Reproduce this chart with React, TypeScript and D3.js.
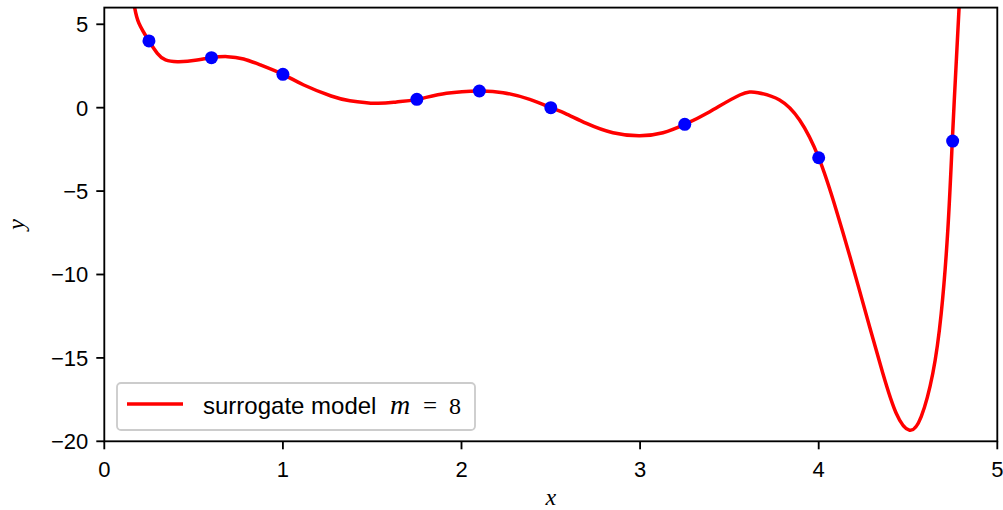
import React from "react";
import * as d3 from "d3";

// Sample locations and observed responses
const sampleX = [0.25, 0.6, 1.0, 1.75, 2.1, 2.5, 3.25, 4.0, 4.75];
const sampleY = [4, 3, 2, 0.5, 1, 0, -1, -3, -2];

// Surrogate model curve, traced at a set of x positions
const modelX = [
  0.17, 0.194, 0.25, 0.297, 0.343, 0.418, 0.52, 0.6, 0.69, 0.78, 0.875, 1.0,
  1.117, 1.27, 1.375, 1.524, 1.636, 1.75, 1.916, 2.1, 2.233, 2.382, 2.5, 2.58,
  2.7, 2.848, 2.998, 3.128, 3.25, 3.39, 3.558, 3.66, 3.781, 3.893, 4.0, 4.098,
  4.191, 4.285, 4.359, 4.434, 4.509, 4.574, 4.639, 4.686, 4.723, 4.748, 4.765,
  4.786,
];
const modelY = [
  6.0, 5.06, 4.0, 3.26, 2.86, 2.76, 2.86, 3.0, 3.06, 2.92, 2.56, 2.0,
  1.36, 0.7, 0.42, 0.26, 0.34, 0.5, 0.86, 1.0, 0.9, 0.5, 0.0, -0.34,
  -0.94, -1.5, -1.68, -1.5, -1.0, -0.24, 0.76, 0.9, 0.46, -0.74, -3.0, -6.13,
  -9.53, -13.13, -15.92, -18.32, -19.34, -18.52, -15.92, -12.33, -7.33, -2.0, 1.66,
  6.0,
];

const xTicks = [0, 1, 2, 3, 4, 5];
const yTicks = [5, 0, -5, -10, -15, -20];

const W = 1003;
const H = 510;
const left = 104.3;
const right = 997.3;
const top = 7.6;
const bottom = 441.3;

const SANS = "'Liberation Sans', Arial, sans-serif";
const SERIF = "'Liberation Serif', 'DejaVu Serif', serif";
const fmt = (v: number) => (v < 0 ? "\u2212" + Math.abs(v) : String(v));

export default function App() {
  const x = d3.scaleLinear().domain([0, 5]).range([left, right]);
  const y = d3.scaleLinear().domain([-20, 6]).range([bottom, top]);

  const pts: [number, number][] = modelX.map((v, i) => [v, modelY[i]]);
  const line = d3
    .line<[number, number]>()
    .x((d) => x(d[0]))
    .y((d) => y(d[1]))
    .curve(d3.curveNatural);

  const tickLen = 8;
  const axisW = 1.85;
  const fs = 22;

  return (
    <svg width={W} height={H} style={{ display: "block", position: "absolute", left: 0, top: 0 }}>
      <rect x={0} y={0} width={W} height={H} fill="#fff" />
      <defs>
        <clipPath id="plot-area">
          <rect x={left} y={top} width={right - left} height={bottom - top} />
        </clipPath>
      </defs>

      <g clipPath="url(#plot-area)">
        <path d={line(pts) ?? ""} fill="none" stroke="#ff0000" strokeWidth={3.5} strokeLinejoin="round" />
        {sampleX.map((v, i) => (
          <circle key={i} cx={x(v)} cy={y(sampleY[i])} r={6.5} fill="#0000ff" />
        ))}
      </g>

      {/* frame */}
      <rect
        x={left}
        y={top}
        width={right - left}
        height={bottom - top}
        fill="none"
        stroke="#000"
        strokeWidth={axisW}
      />

      {/* x axis ticks */}
      {xTicks.map((t) => (
        <g key={"x" + t}>
          <line x1={x(t)} x2={x(t)} y1={bottom} y2={bottom + tickLen} stroke="#000" strokeWidth={axisW} />
          <text x={x(t)} y={bottom + 36} textAnchor="middle" fontFamily={SANS} fontSize={fs} fill="#000">
            {fmt(t)}
          </text>
        </g>
      ))}

      {/* y axis ticks */}
      {yTicks.map((t) => (
        <g key={"y" + t}>
          <line x1={left - tickLen} x2={left} y1={y(t)} y2={y(t)} stroke="#000" strokeWidth={axisW} />
          <text
            x={left - 16}
            y={y(t) + 8}
            textAnchor="end"
            fontFamily={SANS}
            fontSize={fs}
            fill="#000"
          >
            {fmt(t)}
          </text>
        </g>
      ))}

      {/* axis labels */}
      <text x={(left + right) / 2} y={505} textAnchor="middle" fontFamily={SERIF} fontStyle="italic" fontSize={24}>
        x
      </text>
      <text
        transform={`translate(24, ${(top + bottom) / 2}) rotate(-90)`}
        textAnchor="middle"
        fontFamily={SERIF}
        fontStyle="italic"
        fontSize={24}
      >
        y
      </text>

      {/* legend */}
      <g>
        <rect x={117} y={383} width={358} height={47} rx={4} fill="#fff" fillOpacity={0.8} stroke="#cccccc" strokeWidth={1.85} />
        <line x1={127} x2={183} y1={404} y2={404} stroke="#ff0000" strokeWidth={3.5} />
        <text x={203} y={414} fontFamily={SANS} fontSize={24} fill="#000">
          surrogate model
        </text>
        <text x={390} y={414} fontFamily={SERIF} fontStyle="italic" fontSize={28} fill="#000">
          m
        </text>
        <text x={423} y={414} fontFamily={SERIF} fontSize={25} fill="#000">
          =
        </text>
        <text x={449} y={414} fontFamily={SERIF} fontSize={24} fill="#000">
          8
        </text>
      </g>
    </svg>
  );
}
